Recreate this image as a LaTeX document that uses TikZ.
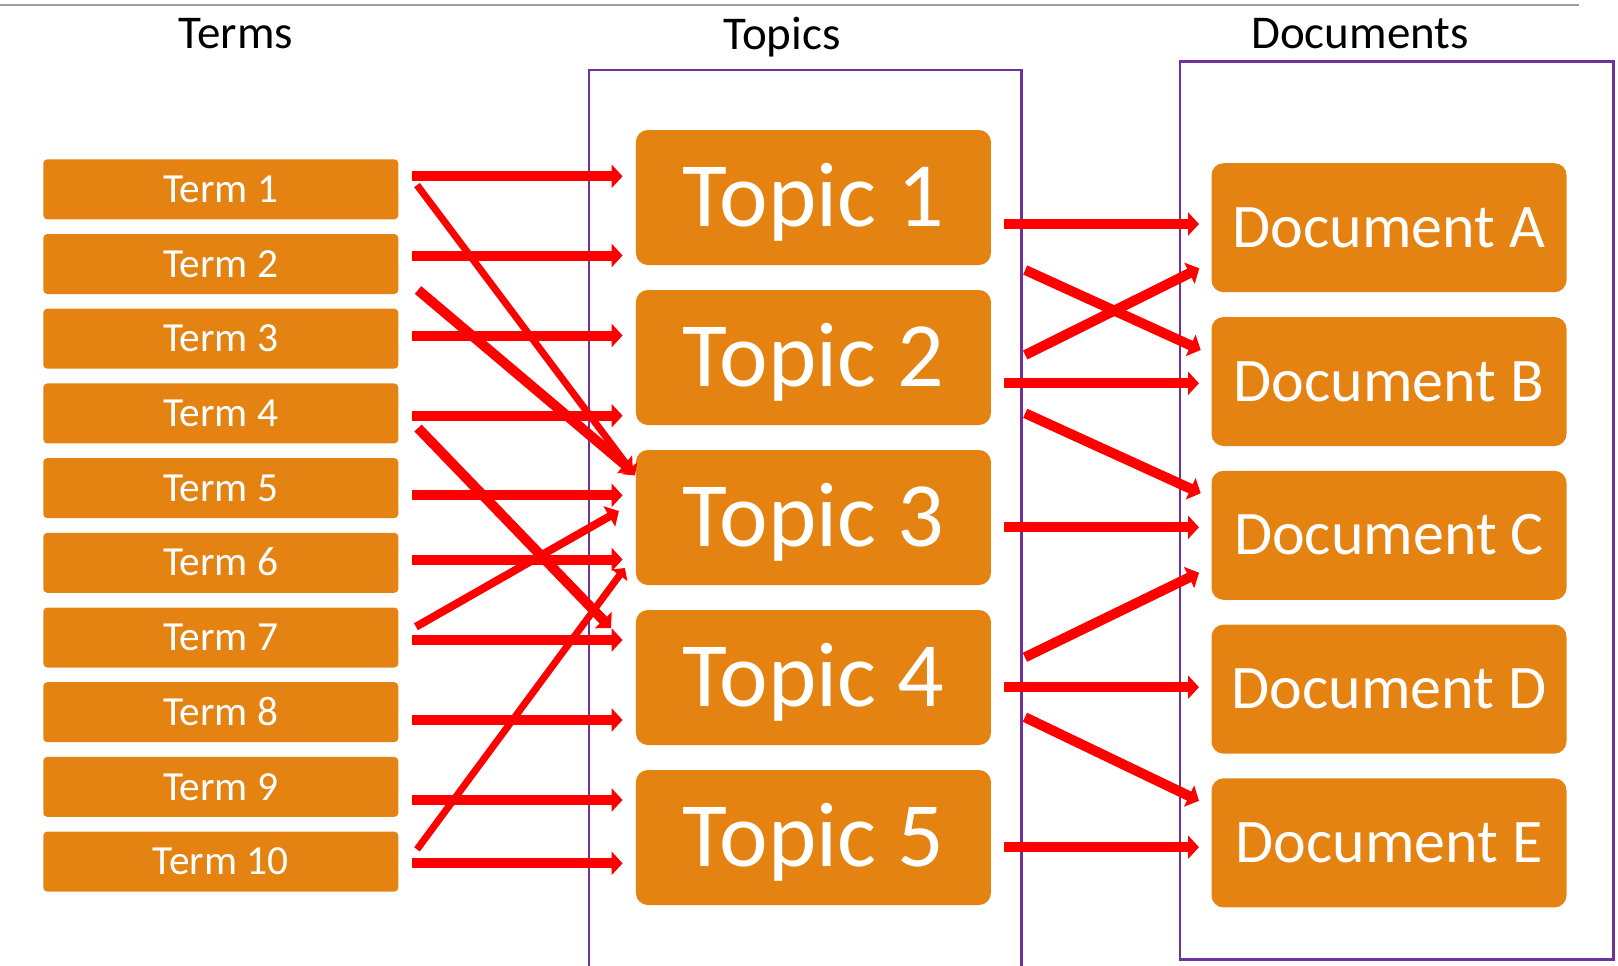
\documentclass[tikz,border=0pt]{standalone}
\usepackage{fontspec}
\setmainfont{Carlito}
\usetikzlibrary{arrows.meta, positioning, calc}
\definecolor{boxorange}{RGB}{228,131,18}
\definecolor{framepurple}{RGB}{112,48,160}
\tikzset{
  term/.style  = {fill=boxorange, rounded corners=2pt, text=white,
                  font=\fontsize{20.7}{24}\selectfont,
                  minimum width=177.5pt, minimum height=30pt,
                  inner sep=0pt, outer sep=0pt,
                  text height=13.1pt, text depth=0pt},
  topic/.style = {term, rounded corners=6pt,
                  font=\fontsize{46}{54}\selectfont,
                  minimum height=67.5pt, text height=29.1pt},
  doc/.style   = {term, rounded corners=6pt,
                  font=\fontsize{31}{37}\selectfont,
                  minimum height=64.5pt, text height=19.6pt},
  head/.style  = {font=\fontsize{23.5}{28}\selectfont, anchor=base, inner sep=0pt},
  frame/.style = {draw=framepurple, line width=1.25pt},
  arr/.style   = {-{Triangle[length=5.5pt, width=11.5pt]}, draw=red, line width=5pt},
  arrlight/.style = {-{Triangle[length=4.5pt, width=9.5pt]}, draw=red, line width=3.5pt}
}

\begin{document}
\begin{tikzpicture}[x=0.5pt, y=-0.5pt]
  \useasboundingbox (0,0) rectangle (1618,965);

  % ── rule and column headers ──────────────────────────────────────────────
  \draw[draw=black!38, line width=1pt] (0,4.5) -- (1579,4.5);
  \node[head] (hTerms)  at (236,48.5)  {Terms};
  \node[head] (hTopics) at (782,49.5)  {Topics};
  \node[head] (hDocs)   at (1360,48.5) {Documents};

  % ── frames ───────────────────────────────────────────────────────────────
  \draw[frame] (589,967) -- (589,70) -- (1021.7,70) -- (1021.7,967);
  \draw[frame] (1180,61.7) rectangle (1613.3,959.7);

  % ── terms (left column) ──────────────────────────────────────────────────
  \node[term] (t1) at (220.8,189.3) {Term 1};
  \node[term, below=7.35pt of t1] (t2)  {Term 2};
  \node[term, below=7.35pt of t2] (t3)  {Term 3};
  \node[term, below=7.35pt of t3] (t4)  {Term 4};
  \node[term, below=7.35pt of t4] (t5)  {Term 5};
  \node[term, below=7.35pt of t5] (t6)  {Term 6};
  \node[term, below=7.35pt of t6] (t7)  {Term 7};
  \node[term, below=7.35pt of t7] (t8)  {Term 8};
  \node[term, below=7.35pt of t8] (t9)  {Term 9};
  \node[term, below=7.35pt of t9] (t10) {Term 10};

  % ── topics (middle column) ───────────────────────────────────────────────
  \node[topic] (tp1) at (813.4,197.5) {Topic 1};
  \node[topic, below=12.5pt of tp1] (tp2) {Topic 2};
  \node[topic, below=12.5pt of tp2] (tp3) {Topic 3};
  \node[topic, below=12.5pt of tp3] (tp4) {Topic 4};
  \node[topic, below=12.5pt of tp4] (tp5) {Topic 5};

  % ── documents (right column) ─────────────────────────────────────────────
  \node[doc] (dA) at (1389,227.7) {Document A};
  \node[doc, below=12.4pt of dA] (dB) {Document B};
  \node[doc, below=12.4pt of dB] (dC) {Document C};
  \node[doc, below=12.4pt of dC] (dD) {Document D};
  \node[doc, below=12.4pt of dD] (dE) {Document E};

  % ── terms -> topics ──────────────────────────────────────────────────────
  \draw[arr] ($(t1.east)+(13.7,-13)$)   coordinate (s1)  -- ($(s1 -| tp1.west)+(-13.3,0)$);
  \draw[arr] ($(t2.east)+(13.7,-8.5)$)  coordinate (s2)  -- ($(s2 -| tp1.west)+(-13.3,0)$);
  \draw[arr] ($(t3.east)+(13.7,-3.2)$)  coordinate (s3)  -- ($(s3 -| tp2.west)+(-13.3,0)$);
  \draw[arr] ($(t4.east)+(13.7,2.3)$)   coordinate (s4)  -- ($(s4 -| tp2.west)+(-13.3,0)$);
  \draw[arr] ($(t5.east)+(13.7,7.2)$)   coordinate (s5)  -- ($(s5 -| tp3.west)+(-13.3,0)$);
  \draw[arr] ($(t6.east)+(13.7,-3.3)$)  coordinate (s6)  -- ($(s6 -| tp3.west)+(-13.3,0)$);
  \draw[arr] ($(t7.east)+(13.7,2.5)$)   coordinate (s7)  -- ($(s7 -| tp4.west)+(-13.3,0)$);
  \draw[arr] ($(t8.east)+(13.7,7.8)$)   coordinate (s8)  -- ($(s8 -| tp4.west)+(-13.3,0)$);
  \draw[arr] ($(t9.east)+(13.7,13.1)$)  coordinate (s9)  -- ($(s9 -| tp5.west)+(-13.3,0)$);
  \draw[arr] ($(t10.east)+(13.7,1.7)$)  coordinate (s10) -- ($(s10 -| tp5.west)+(-13.3,0)$);

  % crossing links
  \draw[arrlight] ($(t1.east)+(18.7,-4.3)$)  -- ($(tp3.west)+(-1,-42)$);
  \draw[arr]      ($(t2.east)+(19.7,26)$)    -- ($(tp3.west)+(-3,-46)$);
  \draw[arr]      ($(t4.east)+(19.7,14.6)$)  -- ($(tp4.west)+(-25,-49.5)$);
  \draw[arr, line width=4pt] ($(t7.east)+(17.7,-10.8)$) -- ($(tp3.west)+(-17,-6.5)$);
  \draw[arrlight] ($(t10.east)+(18.7,-12.2)$) -- ($(tp3.west)+(-11,50.5)$);

  % ── topics -> documents ──────────────────────────────────────────────────
  \draw[arr] ($(tp1.east)+(12.6,26.5)$) coordinate (r1) -- ($(r1 -| dA.west)+(-12.5,0)$);
  \draw[arr] ($(tp2.east)+(12.6,25.8)$) coordinate (r2) -- ($(r2 -| dB.west)+(-12.5,0)$);
  \draw[arr] ($(tp3.east)+(12.6,9.8)$)  coordinate (r3) -- ($(r3 -| dC.west)+(-12.5,0)$);
  \draw[arr] ($(tp4.east)+(12.6,9.7)$)  coordinate (r4) -- ($(r4 -| dD.west)+(-12.5,0)$);
  \draw[arr] ($(tp5.east)+(12.6,9.7)$)  coordinate (r5) -- ($(r5 -| dE.west)+(-12.5,0)$);

  % crossing links
  \draw[arr] ($(tp1.east)+(34.3,72.5)$) -- ($(dB.west)+(-10.8,-31.5)$);
  \draw[arr] ($(tp2.east)+(34.3,-2.5)$) -- ($(dA.west)+(-12.2,40.6)$);
  \draw[arr] ($(tp2.east)+(34.3,55.8)$) -- ($(dC.west)+(-10.8,-42)$);
  \draw[arr] ($(tp4.east)+(34,-20.2)$)  -- ($(dC.west)+(-12.5,37.4)$);
  \draw[arr] ($(tp4.east)+(34,39.7)$)   -- ($(dE.west)+(-12.5,-42.1)$);

\end{tikzpicture}
\end{document}
